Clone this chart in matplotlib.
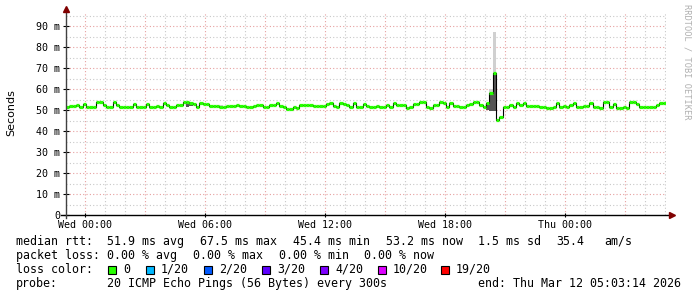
import matplotlib
matplotlib.use("Agg")
import matplotlib.pyplot as plt
from matplotlib.patches import Rectangle
import numpy as np

W, H = 697, 297

# median rtt in ms, one value every 10 minutes, starting Tue 23:03
median_ms = [
    51.4, 51.7, 51.8, 52.6, 51.2, 53.0, 51.5, 51.3, 51.5, 54.0,
    53.8, 52.6, 51.4, 51.6, 53.7, 52.2, 51.3, 51.5, 51.2, 51.6,
    53.0, 51.4, 51.2, 51.6, 53.0, 51.6, 51.4, 51.7, 51.5, 53.2,
    52.3, 51.3, 51.5, 52.4, 52.3, 53.8, 53.6, 53.4, 52.7, 51.4,
    53.3, 53.0, 52.8, 52.0, 52.1, 51.9, 51.4, 51.3, 51.9, 52.0,
    51.8, 52.3, 51.9, 52.0, 51.4, 51.3, 51.9, 52.3, 52.2, 51.4,
    51.3, 52.3, 52.3, 53.4, 52.0, 51.4, 50.6, 50.7, 51.3, 51.0,
    52.3, 52.3, 52.2, 52.3, 51.9, 51.8, 51.8, 51.9, 52.7, 53.5,
    52.0, 51.4, 53.5, 52.7, 52.6, 51.4, 53.2, 51.5, 51.4, 52.7,
    52.0, 51.4, 51.6, 51.9, 51.4, 51.3, 52.3, 51.4, 53.5, 52.4,
    52.3, 52.2, 51.0, 51.5, 52.7, 52.8, 53.8, 53.9, 51.2, 51.0,
    52.3, 52.4, 53.8, 53.2, 51.4, 53.2, 52.0, 51.9, 51.4, 51.4,
    52.3, 52.7, 53.8, 53.6, 52.3, 51.4, 53.2, 58.0, 67.5, 45.4,
    46.8, 51.4, 51.5, 52.3, 51.4, 53.2, 52.3, 53.5, 52.0, 51.9,
    51.8, 51.8, 51.6, 51.5, 51.0, 51.1, 51.4, 53.2, 51.4, 51.9,
    51.4, 52.2, 53.4, 51.5, 51.3, 52.0, 51.8, 53.3, 51.6, 51.4,
    51.0, 53.9, 53.8, 51.4, 53.0, 51.0, 51.0, 51.2, 51.1, 54.0,
    53.9, 53.0, 51.4, 51.5, 51.3, 51.2, 51.3, 52.5, 53.3, 53.5,
]
start_h = -0.95      # hours relative to Wed 00:00
step_h = 10 / 60

# smoke (ping spread) where it shows
smoke_idx = [36, 37, 46, 78, 126, 127, 128]
smoke_lo = [51.5, 51.8, 51.0, 52.2, 50.0, 49.3, 49.3]
smoke_hi = [53.8, 53.6, 52.5, 53.2, 53.5, 60.0, 87.0]

xtick_hours = [0, 6, 12, 18, 24]
xtick_labels = ["Wed 00:00", "Wed 06:00", "Wed 12:00", "Wed 18:00", "Thu 00:00"]
ytick_vals = [0, 10, 20, 30, 40, 50, 60, 70, 80, 90]
ytick_labels = ["0"] + ["%d m" % v for v in ytick_vals[1:]]

loss_labels = ["0", "1/20", "2/20", "3/20", "4/20", "10/20", "19/20"]
loss_colors = ["#26ff00", "#00b8ff", "#0059ff", "#5e00ff", "#7e00ff", "#dd00ff", "#ff0000"]

mono = "DejaVu Sans Mono"

fig = plt.figure(figsize=(W / 100, H / 100), dpi=100)
fig.patch.set_facecolor("white")
ax = fig.add_axes([66 / W, 82 / H, 600 / W, (215 - 13) / H])
ax.set_xlim(start_h, start_h + 30)
ax.set_ylim(0, 202 / 2.1)
for s in ax.spines.values():
    s.set_visible(False)

# grid
minor_c, major_c = "#c8c8c8", "#e6a0a0"
for v in np.arange(5, 96, 10):
    ax.axhline(v, color=minor_c, lw=0.8, ls=(0, (1, 2)), zorder=0)
for v in ytick_vals[1:]:
    ax.axhline(v, color=major_c, lw=0.8, ls=(0, (1, 2)), zorder=0)
for h in range(0, 30):
    col = major_c if h % 3 == 0 else minor_c
    ax.axvline(h, color=col, lw=0.8, ls=(0, (1, 2)), zorder=0)

t = start_h + step_h * np.arange(len(median_ms))

# smoke
for i, lo, hi in zip(smoke_idx, smoke_lo, smoke_hi):
    m = median_ms[i]
    ax.fill_between([t[i], t[i] + step_h], lo, min(m, hi), color="#555555", lw=0, zorder=2)
    if hi > m:
        ax.fill_between([t[i], t[i] + step_h], m, hi, color="#d0d0d0", lw=0, zorder=2)

# median line: black steps with green levels
edges = np.append(t, t[-1] + step_h)
ax.step(edges, median_ms + [median_ms[-1]], where="post", color="black", lw=0.8, zorder=3)
ax.hlines(median_ms, t, t + step_h, color=loss_colors[0], lw=2.3, zorder=4)

# axes with arrows
ax.plot([start_h - 0.25, start_h + 30.25], [0, 0], color="black", lw=1, clip_on=False, zorder=5)
ax.plot([start_h, start_h], [-1.5, 97.5], color="#404040", lw=1, clip_on=False, zorder=5)
ax.plot([start_h], [98.2], marker="^", color="#800000", ms=4, clip_on=False, zorder=6)
ax.plot([start_h + 30.3], [0], marker=">", color="#800000", ms=4, clip_on=False, zorder=6)

ax.set_xticks(xtick_hours)
ax.set_xticklabels(xtick_labels, fontfamily=mono, fontsize=7.2)
ax.set_yticks(ytick_vals)
ax.set_yticklabels(ytick_labels, fontfamily=mono, fontsize=7.2)
ax.tick_params(axis="both", direction="inout", length=4, width=0.8, color="black", pad=2)
ax.tick_params(axis="x", length=3, pad=2)

fig.text(11 / W, 1 - 113 / H, "Seconds", rotation=90, ha="center", va="center", fontsize=8)
fig.text(687 / W, 1 - 4 / H, "RRDTOOL / TOBI OETIKER", rotation=270, ha="center", va="top",
         fontsize=6.2, color="#b0b0b0", fontfamily=mono)


def put(x, y, s):
    fig.text(x / W, 1 - y / H, s, ha="left", va="center", fontsize=8.4, fontfamily=mono)


row1 = [(16, "median rtt:"), (107, "51.9 ms avg"), (200, "67.5 ms max"), (293, "45.4 ms min"),
        (386, "53.2 ms now"), (478, "1.5 ms sd"), (556, "35.4"), (604, "am/s")]
row2 = [(16, "packet loss:"), (107, "0.00 % avg"), (193, "0.00 % max"), (279, "0.00 % min"),
        (364, "0.00 % now")]
for x, s in row1:
    put(x, 241.5, s)
for x, s in row2:
    put(x, 255.5, s)

put(16, 269.5, "loss color:")
sq_x = [108, 146, 204, 262, 320, 378, 441]
for x, lab, c in zip(sq_x, loss_labels, loss_colors):
    fig.patches.append(Rectangle((x / W, 1 - 273.5 / H), 8 / W, 8 / H, transform=fig.transFigure,
                                 facecolor=c, edgecolor="black", lw=0.8))
    put(x + 15, 269.5, lab)

put(16, 283.5, "probe:")
put(107, 283.5, "20 ICMP Echo Pings (56 Bytes) every 300s")
put(478, 283.5, "end: Thu Mar 12 05:03:14 2026")

fig.savefig("out.png", dpi=100)
